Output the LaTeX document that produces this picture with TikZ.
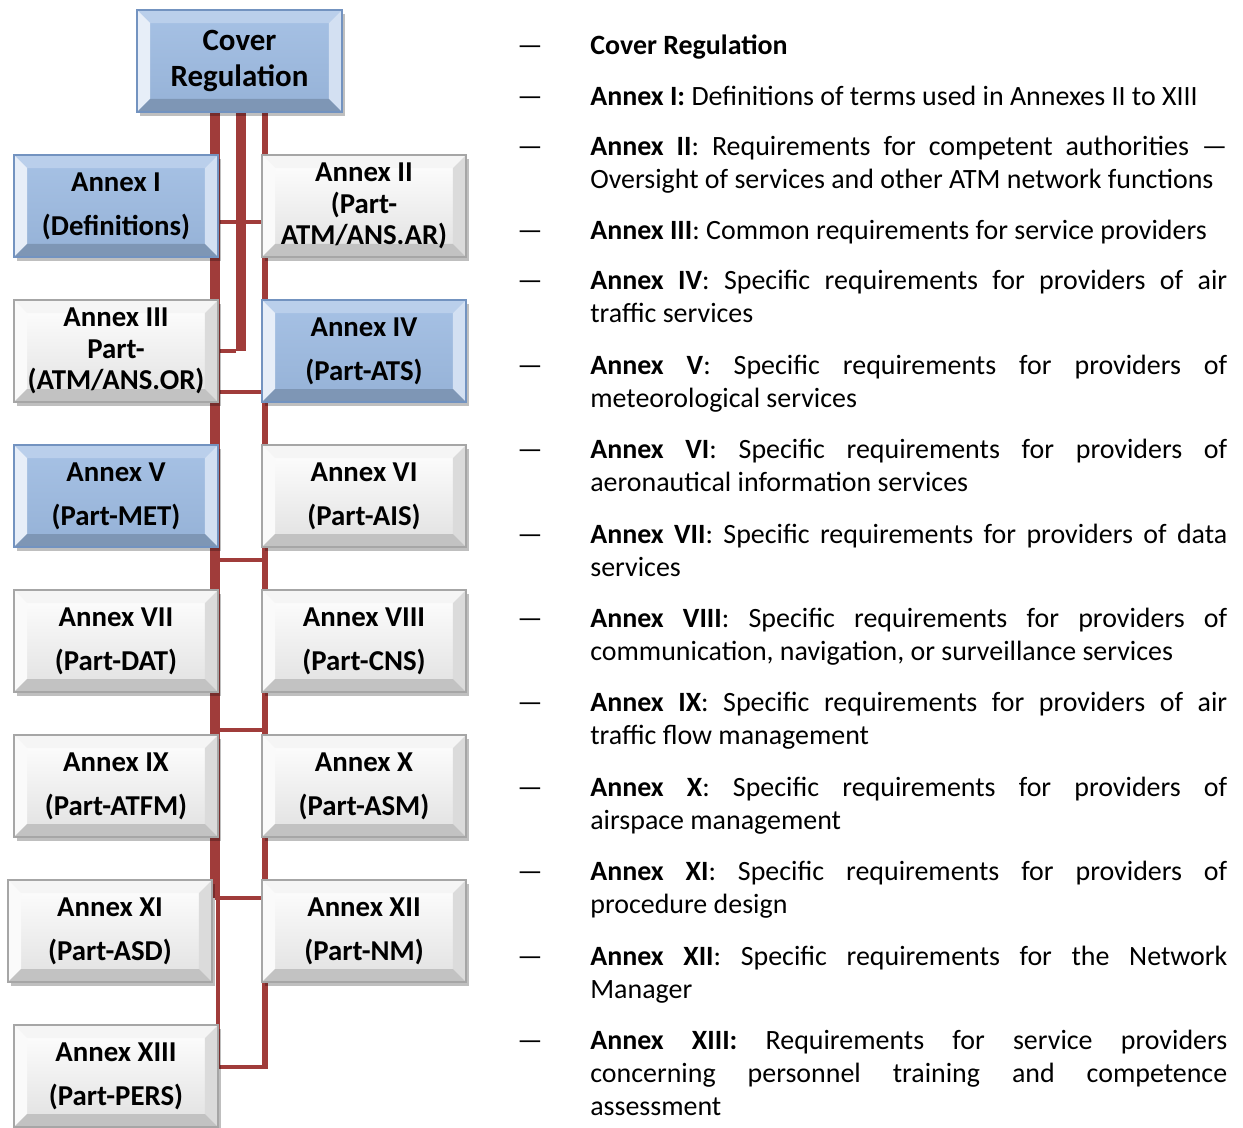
\documentclass[tikz,border=0pt]{standalone}
\usepackage{fontspec}
\setmainfont{Carlito}
\usetikzlibrary{backgrounds,shadows}

\definecolor{linkred}{RGB}{160,60,58}
\definecolor{bluebox}{RGB}{157,187,226}
\definecolor{blueedge}{RGB}{115,147,192}

\def\pb{path picture bounding box}
\tikzset{
  bevel/.style n args={4}{path picture={
    \fill[#1] (\pb.north west) -- (\pb.north east) -- ([shift={(-7.4pt,-7.4pt)}]\pb.north east) -- ([shift={(7.4pt,-7.4pt)}]\pb.north west) -- cycle;
    \fill[#2] (\pb.north west) -- (\pb.south west) -- ([shift={(7.4pt,7.4pt)}]\pb.south west) -- ([shift={(7.4pt,-7.4pt)}]\pb.north west) -- cycle;
    \fill[#3] (\pb.north east) -- (\pb.south east) -- ([shift={(-7.4pt,7.4pt)}]\pb.south east) -- ([shift={(-7.4pt,-7.4pt)}]\pb.north east) -- cycle;
    \fill[#4] (\pb.south west) -- (\pb.south east) -- ([shift={(-7.4pt,7.4pt)}]\pb.south east) -- ([shift={(7.4pt,7.4pt)}]\pb.south west) -- cycle;
  }},
  annex/.style={minimum width=4.08cm, minimum height=2.04cm, inner sep=0pt, align=center,
    line width=0.8pt, font=\fontsize{16.4}{25}\selectfont\bfseries,
    drop shadow={shadow xshift=1.5pt, shadow yshift=-2.5pt, fill=black, opacity=0.25}},
  bluebox/.style={annex, draw=blueedge, top color=bluebox!90!white, bottom color=bluebox!95!black,
    bevel={bluebox!70!white}{bluebox!25!white}{bluebox!45!white}{bluebox!80!black}},
  whitebox/.style={annex, draw=black!35, top color=white, bottom color=black!12,
    bevel={black!4}{black!2}{black!14}{black!24}},
  trunk/.style={draw=linkred, line cap=butt},
  link/.style={draw=linkred, line width=2.6pt},
  dashmark/.style={anchor=base west, inner sep=0pt, font=\fontsize{15.9}{19}\selectfont},
  desc/.style={anchor=base west, text width=12.74cm, align=justify, inner sep=0pt,
    font=\fontsize{15.9}{19}\selectfont,
    execute at begin node={\tolerance=9999 \hyphenpenalty=10000 }}
}

\begin{document}
\begin{tikzpicture}[x=0.02cm,y=-0.02cm]
\useasboundingbox (0,0) rectangle (1243,1127);

% boxes
\node[bluebox, minimum width=4.1cm, font=\fontsize{17.6}{20.4}\selectfont\bfseries] (cover) at (239.5,61) {Cover\\Regulation};
\node[bluebox] (a1) at (116,206) {Annex I\\(Definitions)};
\node[whitebox, font=\fontsize{16.4}{18.1}\selectfont\bfseries] (a2) at (364,206) {Annex II\\(Part-\\ATM/ANS.AR)};
\node[whitebox, font=\fontsize{16.4}{18.1}\selectfont\bfseries] (a3) at (116,351) {Annex III\\Part-\\(ATM/ANS.OR)};
\node[bluebox] (a4) at (364,351) {Annex IV\\(Part-ATS)};
\node[bluebox] (a5) at (116,496) {Annex V\\(Part-MET)};
\node[whitebox] (a6) at (364,496) {Annex VI\\(Part-AIS)};
\node[whitebox] (a7) at (116,641) {Annex VII\\(Part-DAT)};
\node[whitebox] (a8) at (364,641) {Annex VIII\\(Part-CNS)};
\node[whitebox] (a9) at (116,786) {Annex IX\\(Part-ATFM)};
\node[whitebox] (a10) at (364,786) {Annex X\\(Part-ASM)};
\node[whitebox] (a11) at (110,931) {Annex XI\\(Part-ASD)};
\node[whitebox] (a12) at (364,931) {Annex XII\\(Part-NM)};
\node[whitebox] (a13) at (116,1076) {Annex XIII\\(Part-PERS)};

% lines
\coordinate (xL) at (215,0);
\coordinate (xL2) at (218,0);
\coordinate (xM) at (241,0);
\coordinate (xR) at (265,0);
\coordinate (r1) at (0,222);
\coordinate (r2) at (0,351);
\coordinate (r3) at (0,392);
\coordinate (r4) at (0,560);
\coordinate (r5) at (0,730);
\coordinate (r6) at (0,898);
\coordinate (r7) at (0,1067);
\begin{scope}[on background layer]
\draw[trunk, line width=5.7pt] (cover.south -| xL) -- (xL |- r6);
\draw[trunk, line width=5.7pt] (cover.south -| xM) -- (xM |- r2);
\draw[link] ([xshift=-2.8pt]xM |- r2) -- (a3.east |- r2);
\draw[trunk, line width=3.4pt] (cover.south -| xR) -- (xR |- r7);
\draw[trunk, line width=2.8pt] (xL2 |- r6) -- (xL2 |- r7) -- ([xshift=1.7pt]xR |- r7);
\draw[link] (a1.east |- r1) -- (a2.west |- r1);
\draw[link] (xL |- r3) -- (a4.west |- r3);
\draw[link] (xL |- r4) -- (xR |- r4);
\draw[link] (xL |- r5) -- (xR |- r5);
\draw[link] (xL |- r6) -- (a12.west |- r6);
\end{scope}

% list
\foreach \y [count=\i] in {54,105,155,239,289,374,458,543,627,711,796,880,965,1049}
  \node[dashmark] (m\i) at (517,\y) {—};
\node[desc] (t1) at (590,54) {\textbf{Cover Regulation}};
\node[desc] (t2) at (590,105) {\textbf{Annex I:} Definitions of terms used in Annexes II to XIII};
\node[desc] (t3) at (590,155) {\textbf{Annex II}: Requirements for competent authorities —\linebreak Oversight of services and other ATM network functions};
\node[desc] (t4) at (590,239) {\textbf{Annex III}: Common requirements for service providers};
\node[desc] (t5) at (590,289) {\textbf{Annex IV}: Specific requirements for providers of air\linebreak traffic services};
\node[desc] (t6) at (590,374) {\textbf{Annex V}: Specific requirements for providers of\linebreak meteorological services};
\node[desc] (t7) at (590,458) {\textbf{Annex VI}: Specific requirements for providers of\linebreak aeronautical information services};
\node[desc] (t8) at (590,543) {\textbf{Annex VII}: Specific requirements for providers of data\linebreak services};
\node[desc] (t9) at (590,627) {\textbf{Annex VIII}: Specific requirements for providers of\linebreak communication, navigation, or surveillance services};
\node[desc] (t10) at (590,711) {\textbf{Annex IX}: Specific requirements for providers of air\linebreak traffic flow management};
\node[desc] (t11) at (590,796) {\textbf{Annex X}: Specific requirements for providers of\linebreak airspace management};
\node[desc] (t12) at (590,880) {\textbf{Annex XI}: Specific requirements for providers of\linebreak procedure design};
\node[desc] (t13) at (590,965) {\textbf{Annex XII}: Specific requirements for the Network\linebreak Manager};
\node[desc] (t14) at (590,1049) {\textbf{Annex XIII:} Requirements for service providers\linebreak concerning personnel training and competence\linebreak assessment};
\end{tikzpicture}
\end{document}
